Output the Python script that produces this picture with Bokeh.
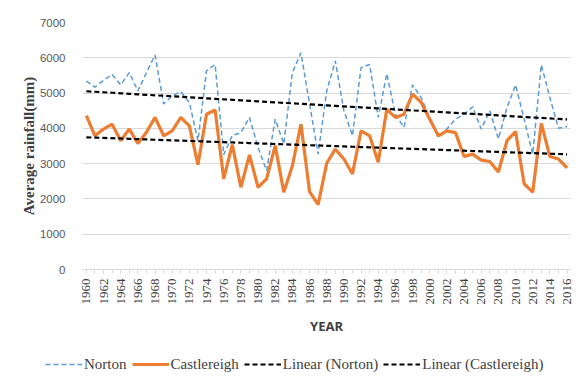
import numpy as np
from bokeh.plotting import figure
from bokeh.models import FixedTicker, Legend, LegendItem, ColumnDataSource
from bokeh.embed import file_html
from bokeh.resources import INLINE
import math

years = list(range(1960, 2017))
norton = [5340, 5170, 5360, 5530, 5230, 5580, 5060, 5580, 6080, 4690,
          4920, 5040, 4730, 3650, 5630, 5810, 3250, 3800, 3880, 4310,
          3460, 2800, 4260, 3560, 5580, 6140, 4700, 3270, 5060, 5910,
          4500, 3790, 5720, 5810, 4310, 5550, 4400, 4030, 5230, 4870,
          4310, 3740, 3980, 4260, 4400, 4610, 3980, 4500, 3700, 4590,
          5230, 4260, 3270, 5800, 4870, 4000, 4050]
castlereigh = [4360, 3790, 3980, 4120, 3650, 3980, 3570, 3890, 4310, 3790,
               3930, 4310, 4070, 2970, 4400, 4520, 2570, 3540, 2330, 3250,
               2330, 2570, 3510, 2190, 2940, 4120, 2210, 1840, 3010, 3410,
               3130, 2710, 3930, 3790, 3040, 4540, 4310, 4400, 4970, 4740,
               4260, 3790, 3930, 3880, 3200, 3270, 3100, 3060, 2760, 3650,
               3910, 2430, 2190, 4140, 3200, 3130, 2880]
year_ticks = list(range(1960, 2017, 2))
y_ticks = [0, 1000, 2000, 3000, 4000, 5000, 6000, 7000]
series_names = ["Norton", "Castlereigh", "Linear (Norton)", "Linear (Castlereigh)"]

x = np.array(years, dtype=float)
kn = np.polyfit(x, np.array(norton, dtype=float), 1)
kc = np.polyfit(x, np.array(castlereigh, dtype=float), 1)
trend_n = list(np.polyval(kn, x))
trend_c = list(np.polyval(kc, x))

src = ColumnDataSource(dict(year=years, norton=norton, castlereigh=castlereigh,
                            tn=trend_n, tc=trend_c))
cols = ["norton", "castlereigh", "tn", "tc"]

styles = [
    dict(line_color="#5B9BD5", line_width=1.5, line_dash="5 3"),
    dict(line_color="#ED7D31", line_width=3.2),
    dict(line_color="black", line_width=2.2, line_dash="5 3"),
    dict(line_color="black", line_width=2.2, line_dash="5 3"),
]

p = figure(width=579, height=345, output_backend="svg", toolbar_location=None,
           x_range=(1959.55, 2016.4), y_range=(0, 7000),
           min_border_left=82, min_border_right=9, min_border_top=22, min_border_bottom=76)
p.outline_line_color = None
p.background_fill_color = "white"
p.border_fill_color = "white"

for c, st in zip(cols, styles):
    p.line("year", c, source=src, **st)

# x axis
p.xaxis.ticker = FixedTicker(ticks=year_ticks, minor_ticks=years)
p.xaxis.major_label_orientation = math.pi / 2
p.xaxis.major_label_text_font = "Liberation Serif"
p.xaxis.major_label_text_font_size = "13px"
p.xaxis.major_label_text_color = "#404040"
p.xaxis.major_label_standoff = 5
p.xaxis.axis_line_color = "#d9d9d9"
p.xaxis.major_tick_line_color = "#d9d9d9"
p.xaxis.minor_tick_line_color = "#d9d9d9"
p.xaxis.major_tick_in = 0
p.xaxis.major_tick_out = 4
p.xaxis.minor_tick_in = 0
p.xaxis.minor_tick_out = 4
p.xaxis.axis_label = "YEAR"
p.xaxis.axis_label_text_font = "Open Sans"
p.xaxis.axis_label_text_font_style = "bold"
p.xaxis.axis_label_text_font_size = "13px"
p.xaxis.axis_label_text_color = "#404040"
p.xaxis.axis_label_standoff = 9

# y axis
p.yaxis.ticker = FixedTicker(ticks=y_ticks)
p.yaxis.axis_line_color = None
p.yaxis.major_tick_line_color = None
p.yaxis.minor_tick_line_color = None
p.yaxis.major_label_text_font = "Liberation Sans"
p.yaxis.major_label_text_font_size = "11.5px"
p.yaxis.major_label_text_color = "#595959"
p.yaxis.major_label_standoff = 11
p.yaxis.axis_label = "Average rainfall(mm)"
p.yaxis.axis_label_text_font = "Liberation Serif"
p.yaxis.axis_label_text_font_style = "bold"
p.yaxis.axis_label_text_font_size = "15px"
p.yaxis.axis_label_text_color = "#404040"
p.yaxis.axis_label_standoff = 0

p.xgrid.grid_line_color = None
p.ygrid.grid_line_color = "#d9d9d9"

# legend strip (separate root so its frame spans the full width)
lg = figure(width=579, height=40, output_backend="svg", toolbar_location=None,
            x_range=(0, 1), y_range=(0, 1), x_axis_type=None, y_axis_type=None,
            min_border_left=0, min_border_right=0, min_border_top=0, min_border_bottom=0)
lg.outline_line_color = None
lg.grid.grid_line_color = None
items = []
for name, c, st in zip(series_names, cols, styles):
    r = lg.line("year", c, source=src, **st)  # out of view; used only as legend proxy
    items.append(LegendItem(label=name, renderers=[r]))

legend = Legend(items=items, orientation="horizontal", location=(45, 11))
legend.label_text_font = "Liberation Serif"
legend.label_text_font_size = "15px"
legend.label_text_color = "#404040"
legend.glyph_width = 37
legend.label_standoff = 2
legend.spacing = 5
legend.padding = 0
legend.margin = 0
legend.border_line_color = None
legend.background_fill_alpha = 0
lg.add_layout(legend, "center")

open("out.html", "w").write(file_html([p, lg], INLINE))
